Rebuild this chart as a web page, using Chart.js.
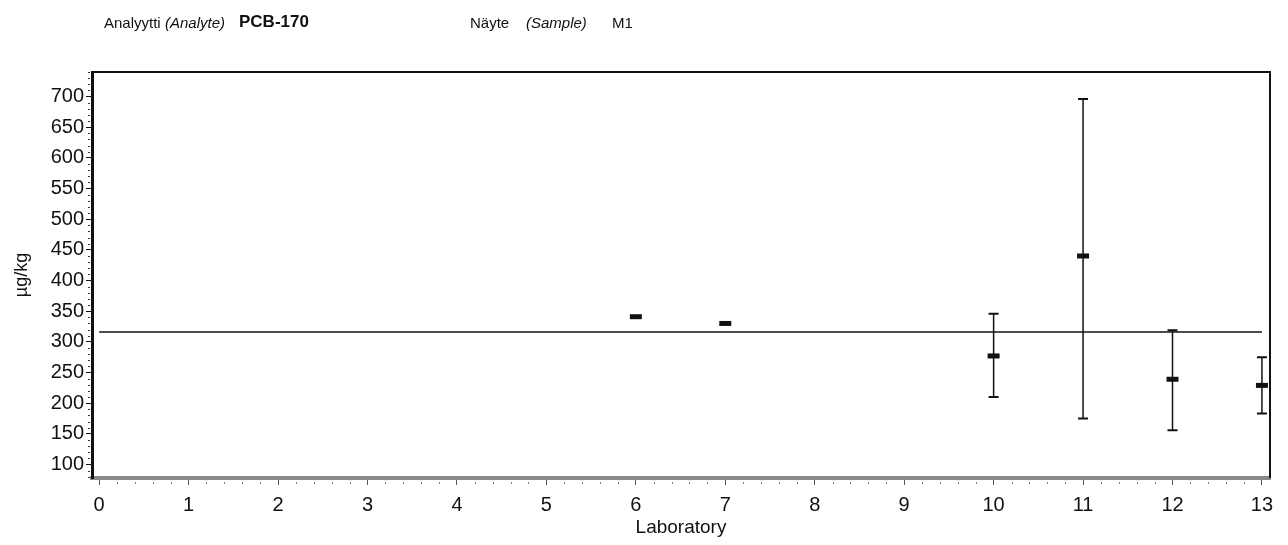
<!DOCTYPE html>
<html>
<head>
<meta charset="utf-8">
<script src="https://cdn.jsdelivr.net/npm/chart.js@4.4.1/dist/chart.umd.min.js"></script>
<style>
  body { margin: 0; background: #fff; }
  #wrap { position: relative; width: 1288px; height: 545px; }
  #chart { position: absolute; left: 0; top: 0; }
  .hd { position: absolute; top: 14px; font: 15px "Liberation Sans", Arial, sans-serif; color: #111; white-space: nowrap; z-index: 2; }
  .it { font-style: italic; }
  .bd { font-weight: bold; font-size: 17px; top: 12px; }
</style>
</head>
<body>
<div id="wrap">
  <span class="hd" style="left:104px">Analyytti</span>
  <span class="hd it" style="left:165px">(Analyte)</span>
  <span class="hd bd" style="left:239px">PCB-170</span>
  <span class="hd" style="left:470px">Näyte</span>
  <span class="hd it" style="left:526px">(Sample)</span>
  <span class="hd" style="left:612px">M1</span>
  <canvas id="chart" width="1288" height="545"></canvas>
</div>
<script>
// values
const labs = [6, 7, 10, 11, 12, 13];
const results = [341, 330, 277, 440, 239, 229];
const lower = [null, null, 210, 175, 156, 183];
const upper = [null, null, 346, 696, 319, 275];
const assignedValue = 316;
const xTicks = [0, 1, 2, 3, 4, 5, 6, 7, 8, 9, 10, 11, 12, 13];
const yTicks = [100, 150, 200, 250, 300, 350, 400, 450, 500, 550, 600, 650, 700];

const font = "'Liberation Sans', Arial, sans-serif";

// vertical uncertainty bars
const errorBars = {
  id: "errorBars",
  beforeDatasetsDraw(chart) {
    const { ctx, scales } = chart;
    ctx.save();
    ctx.strokeStyle = "#111";
    labs.forEach((lab, i) => {
      if (lower[i] == null) return;
      const x = scales.x.getPixelForValue(lab);
      const y1 = scales.y.getPixelForValue(lower[i]);
      const y2 = scales.y.getPixelForValue(upper[i]);
      ctx.lineWidth = 1.5;
      ctx.beginPath();
      ctx.moveTo(x, y1);
      ctx.lineTo(x, y2);
      ctx.stroke();
      ctx.lineWidth = 2;
      ctx.beginPath();
      ctx.moveTo(x - 5, y1);
      ctx.lineTo(x + 5, y1);
      ctx.moveTo(x - 5, y2);
      ctx.lineTo(x + 5, y2);
      ctx.stroke();
    });
    ctx.restore();
  }
};

// frame on top/right plus the small minor ticks
const frame = {
  id: "frame",
  afterDraw(chart) {
    const { ctx, chartArea: a, scales } = chart;
    ctx.save();
    ctx.strokeStyle = "#111";
    ctx.lineWidth = 2;
    ctx.beginPath();
    ctx.moveTo(a.left, a.top);
    ctx.lineTo(a.right, a.top);
    ctx.lineTo(a.right, a.bottom);
    ctx.stroke();

    ctx.lineWidth = 1;
    ctx.strokeStyle = "#333";
    for (let v = 80; v <= 740; v += 10) {
      if (v % 50 === 0) continue;
      const y = Math.round(scales.y.getPixelForValue(v)) + 0.5;
      ctx.beginPath();
      ctx.moveTo(a.left - 4, y);
      ctx.lineTo(a.left - 2, y);
      ctx.stroke();
    }
    ctx.strokeStyle = "#777";
    for (let k = 0; k <= 65; k++) {
      if (k % 5 === 0) continue;
      const x = Math.round(scales.x.getPixelForValue(k / 5)) + 0.5;
      ctx.beginPath();
      ctx.moveTo(x, a.bottom + 4);
      ctx.lineTo(x, a.bottom + 6);
      ctx.stroke();
    }
    ctx.restore();
  }
};

new Chart(document.getElementById("chart"), {
  type: "scatter",
  data: {
    datasets: [
      {
        type: "line",
        data: [{ x: 0, y: assignedValue }, { x: 13, y: assignedValue }],
        borderColor: "#111",
        borderWidth: 1.5,
        pointRadius: 0
      },
      {
        data: labs.map((lab, i) => ({ x: lab, y: results[i] })),
        pointStyle: "line",
        pointRadius: 6,
        borderWidth: 5,
        borderColor: "#111",
        backgroundColor: "#111"
      }
    ]
  },
  options: {
    responsive: false,
    animation: false,
    layout: { padding: { top: 72, right: 18, left: 0, bottom: 0 } },
    plugins: { legend: { display: false }, tooltip: { enabled: false } },
    scales: {
      x: {
        type: "linear",
        min: -0.08,
        max: 13.09,
        afterBuildTicks: (s) => { s.ticks = xTicks.map((v) => ({ value: v })); },
        afterFit: (s) => { s.height = 67; },
        grid: { drawOnChartArea: false, tickLength: 7, color: "#555" },
        border: { color: "#8a8a8a", width: 4 },
        ticks: { color: "#111", font: { family: font, size: 20 }, padding: 8, maxRotation: 0 },
        title: {
          display: true,
          text: "Laboratory",
          color: "#111",
          font: { family: font, size: 19 },
          padding: { top: 0, bottom: 6 }
        }
      },
      y: {
        min: 78,
        max: 740,
        afterBuildTicks: (s) => { s.ticks = yTicks.map((v) => ({ value: v })); },
        afterFit: (s) => { s.width = 92; },
        grid: { drawOnChartArea: false, tickLength: 6, color: "#111" },
        border: { color: "#111", width: 3 },
        ticks: { color: "#111", font: { family: font, size: 20 }, padding: 2 },
        title: {
          display: true,
          text: "µg/kg",
          color: "#111",
          font: { family: font, size: 18 },
          padding: { top: 11, bottom: 0 }
        }
      }
    }
  },
  plugins: [errorBars, frame]
});
</script>
</body>
</html>
